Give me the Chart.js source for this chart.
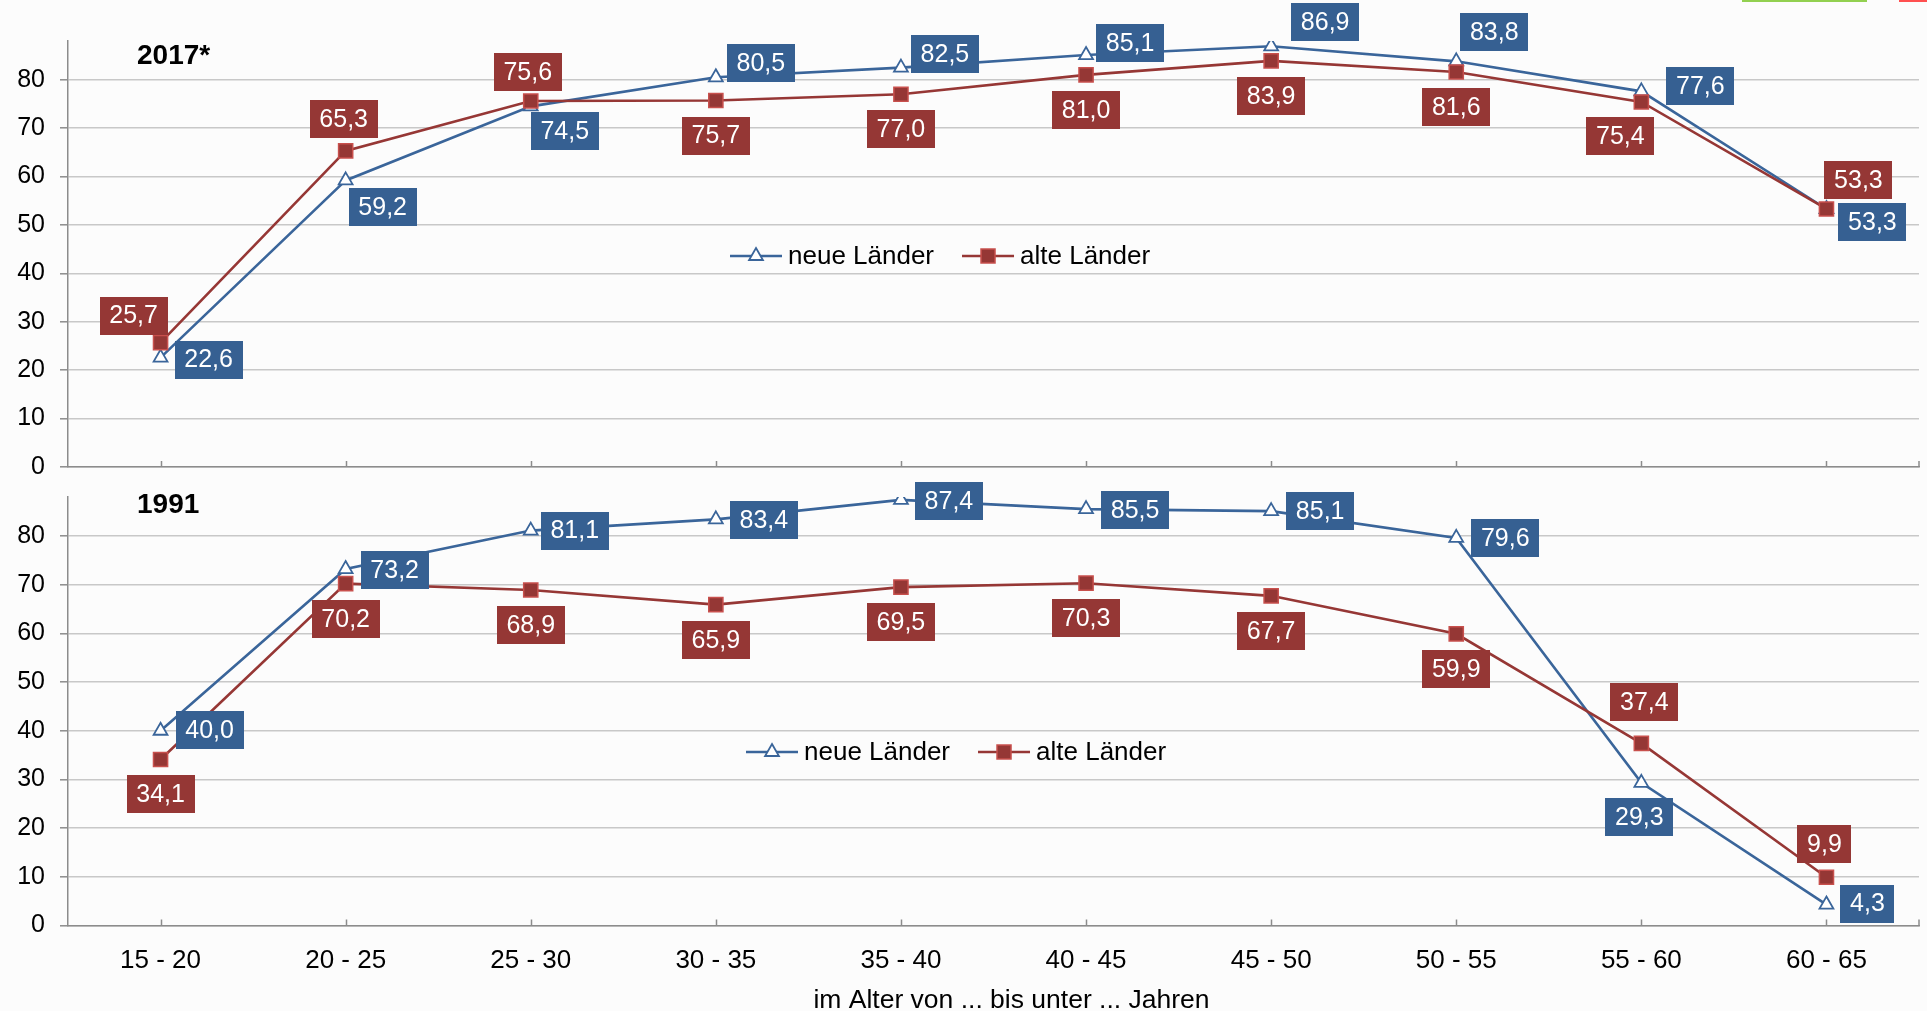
<!DOCTYPE html>
<html lang="de">
<head>
<meta charset="utf-8">
<title>Erwerbstätigenquoten nach Alter</title>
<script src="https://cdn.jsdelivr.net/npm/chart.js@4/dist/chart.umd.min.js"></script>
<style>
  html, body { margin: 0; padding: 0; background: #fcfcfc; }
  #wrap { position: relative; width: 1927px; height: 1011px; overflow: hidden; background: #fcfcfc; }
  .panel { position: absolute; left: 0; }
  #p2017 { top: 0; }
  #p1991 { top: 476px; }
  .strip { position: absolute; top: 0; height: 2px; }
</style>
</head>
<body>
<div id="wrap">
  <canvas class="panel" id="p2017" width="1927" height="476"></canvas>
  <canvas class="panel" id="p1991" width="1927" height="535"></canvas>
  <div class="strip" style="left:1742px;width:125px;background:#92d050"></div>
  <div class="strip" style="left:1899px;width:28px;background:#ff5050"></div>
</div>
<script>
// ---- data ----
const ageGroups = ['15 - 20', '20 - 25', '25 - 30', '30 - 35', '35 - 40',
                   '40 - 45', '45 - 50', '50 - 55', '55 - 60', '60 - 65'];
const seriesNames = ['neue Länder', 'alte Länder'];
const neue2017 = [22.6, 59.2, 74.5, 80.5, 82.5, 85.1, 86.9, 83.8, 77.6, 53.3];
const alte2017 = [25.7, 65.3, 75.6, 75.7, 77.0, 81.0, 83.9, 81.6, 75.4, 53.3];
const neue1991 = [40.0, 73.2, 81.1, 83.4, 87.4, 85.5, 85.1, 79.6, 29.3, 4.3];
const alte1991 = [34.1, 70.2, 68.9, 65.9, 69.5, 70.3, 67.7, 59.9, 37.4, 9.9];
const yTickValues = [0, 10, 20, 30, 40, 50, 60, 70, 80];
const panelTitles = ['2017*', '1991'];
const xAxisTitle = 'im Alter von ... bis unter ... Jahren';

// ---- styles ----
const FONT = '"Liberation Sans", Arial, Helvetica, sans-serif';
const BLUE_LINE = '#3a659a';
const RED_LINE = '#963735';
const BLUE_BOX = '#366092';
const RED_BOX = '#953735';
const RED_EDGE = '#c8504d';
const GRID = '#c8c8c8';
const AXIS = '#8c8c8c';

// label box placement around each point (pixels)
const offsNeue2017 = [[48,2],[37,27],[34,25],[45,-14],[44,-14],[44,-12],[54,-24],[38,-29],[59,-5],[46,13]];
const offsAlte2017 = [[-27,-27],[-2,-32],[-3,-29],[0,35],[0,35],[0,35],[0,35],[0,35],[-21,34],[32,-29]];
const offsNeue1991 = [[49,-1],[49,1],[44,0],[48,1],[48,1],[49,1],[49,0],[49,0],[-2,34],[41,-1]];
const offsAlte1991 = [[0,35],[0,35],[0,35],[0,35],[0,35],[0,35],[0,35],[0,35],[3,-41],[-2,-33]];

const fmt = v => v.toFixed(1).replace('.', ',');

function drawMarker(ctx, style, x, y) {
  ctx.save();
  if (style === 'triangle') {
    const r = 8;
    ctx.beginPath();
    ctx.moveTo(x, y - r);
    ctx.lineTo(x + r * 0.866, y + r * 0.5);
    ctx.lineTo(x - r * 0.866, y + r * 0.5);
    ctx.closePath();
    ctx.fillStyle = '#ffffff';
    ctx.fill();
    ctx.lineWidth = 1.8;
    ctx.strokeStyle = BLUE_LINE;
    ctx.stroke();
  } else {
    const s = 7;
    ctx.fillStyle = RED_BOX;
    ctx.fillRect(x - s, y - s, 2 * s, 2 * s);
    ctx.lineWidth = 1.5;
    ctx.strokeStyle = RED_EDGE;
    ctx.strokeRect(x - s, y - s, 2 * s, 2 * s);
  }
  ctx.restore();
}

// value boxes next to the points
const valueBoxes = {
  id: 'valueBoxes',
  afterDatasetsDraw(chart, args, opts) {
    const ctx = chart.ctx;
    ctx.save();
    ctx.font = '25px ' + FONT;
    ctx.textAlign = 'center';
    ctx.textBaseline = 'middle';
    const h = 38, pad = 9.7;
    chart.data.datasets.forEach((ds, di) => {
      const meta = chart.getDatasetMeta(di);
      meta.data.forEach((pt, i) => {
        const txt = fmt(ds.data[i]);
        const w = ctx.measureText(txt).width + 2 * pad;
        const cx = pt.x + opts.offsets[di][i][0];
        const cy = pt.y + opts.offsets[di][i][1];
        ctx.fillStyle = opts.colors[di];
        ctx.fillRect(Math.round(cx - w / 2), Math.round(cy - h / 2), Math.round(w), h);
        ctx.fillStyle = '#ffffff';
        ctx.fillText(txt, cx, cy + 1);
      });
    });
    ctx.restore();
  }
};

// legend inside the plot, panel title, tick marks, axis title
const decorations = {
  id: 'decorations',
  afterDraw(chart, args, opts) {
    const ctx = chart.ctx;
    const xs = chart.scales.x;
    const area = chart.chartArea;
    ctx.save();
    // upward tick marks on the category axis
    ctx.strokeStyle = AXIS;
    ctx.lineWidth = 1.5;
    ctx.beginPath();
    for (let i = 0; i < ageGroups.length; i++) {
      const px = Math.round(xs.getPixelForValue(i)) + 0.5;
      ctx.moveTo(px, area.bottom);
      ctx.lineTo(px, area.bottom - 6);
    }
    ctx.moveTo(area.right, area.bottom);
    ctx.lineTo(area.right, area.bottom - 6);
    ctx.stroke();

    // panel title
    ctx.fillStyle = '#000';
    ctx.font = 'bold 28px ' + FONT;
    ctx.textAlign = 'left';
    ctx.textBaseline = 'middle';
    ctx.fillText(opts.title, opts.titleX, opts.titleY);

    // legend
    ctx.font = '26px ' + FONT;
    let lx = opts.legendX;
    const ly = opts.legendY;
    chart.data.datasets.forEach(ds => {
      ctx.strokeStyle = ds.borderColor;
      ctx.lineWidth = 2.5;
      ctx.beginPath();
      ctx.moveTo(lx, ly);
      ctx.lineTo(lx + 52, ly);
      ctx.stroke();
      drawMarker(ctx, ds.pointStyle, lx + 26, ly);
      ctx.fillStyle = '#000';
      ctx.textAlign = 'left';
      ctx.fillText(ds.label, lx + 58, ly + 1);
      lx += 58 + ctx.measureText(ds.label).width + 28;
    });

    // axis title
    if (opts.axisTitle) {
      ctx.font = '26.5px ' + FONT;
      ctx.textAlign = 'center';
      ctx.textBaseline = 'alphabetic';
      ctx.fillText(opts.axisTitle, (area.left + area.right) / 2 + 18, opts.axisTitleY);
    }
    ctx.restore();
  }
};

function makePanel(canvasId, neue, alte, offsets, layout) {
  return new Chart(document.getElementById(canvasId), {
    type: 'line',
    data: {
      labels: ageGroups,
      datasets: [
        {
          label: seriesNames[0],
          data: neue,
          borderColor: BLUE_LINE,
          borderWidth: 2.6,
          pointStyle: 'triangle',
          pointRadius: 8,
          pointBackgroundColor: '#ffffff',
          pointBorderColor: BLUE_LINE,
          pointBorderWidth: 1.8,
          tension: 0,
          order: 2
        },
        {
          label: seriesNames[1],
          data: alte,
          borderColor: RED_LINE,
          borderWidth: 2.6,
          pointStyle: 'rect',
          pointRadius: 10,
          pointBackgroundColor: RED_BOX,
          pointBorderColor: RED_EDGE,
          pointBorderWidth: 1.5,
          tension: 0,
          order: 1
        }
      ]
    },
    options: {
      responsive: false,
      animation: false,
      events: [],
      layout: { autoPadding: false, padding: { top: layout.top, right: 8, left: 0, bottom: 0 } },
      plugins: {
        legend: { display: false },
        title: { display: false },
        tooltip: { enabled: false },
        valueBoxes: { offsets: offsets, colors: [BLUE_BOX, RED_BOX] },
        decorations: {
          title: layout.title, titleX: 137, titleY: layout.titleY,
          legendX: layout.legendX, legendY: layout.legendY,
          axisTitle: layout.axisTitle, axisTitleY: layout.axisTitleY
        }
      },
      scales: {
        x: {
          type: 'category',
          offset: true,
          grid: { display: true, drawOnChartArea: false, drawTicks: false },
          border: { display: true, color: AXIS, width: 1.5 },
          ticks: {
            display: layout.showLabels,
            color: '#000',
            font: { family: FONT, size: 26 },
            padding: 20,
            maxRotation: 0,
            autoSkip: false
          },
          afterFit(s) { s.height = layout.xHeight; s.paddingLeft = 0; s.paddingRight = 0; }
        },
        y: {
          min: 0,
          max: 88,
          afterBuildTicks(s) { s.ticks = yTickValues.map(v => ({ value: v })); },
          grid: { color: GRID, lineWidth: 1.6, drawTicks: true, tickLength: 8, tickColor: AXIS, tickWidth: 1.5 },
          border: { display: true, color: AXIS, width: 1.5 },
          ticks: {
            color: '#000',
            font: { family: FONT, size: 25 },
            padding: 15
          },
          afterFit(s) { s.width = 68; s.paddingTop = 0; s.paddingBottom = 0; }
        }
      }
    },
    plugins: [valueBoxes, decorations]
  });
}

makePanel('p2017', neue2017, alte2017, [offsNeue2017, offsAlte2017], {
  top: 41, xHeight: 9, showLabels: false,
  title: panelTitles[0], titleY: 56,
  legendX: 730, legendY: 256
});

makePanel('p1991', neue1991, alte1991, [offsNeue1991, offsAlte1991], {
  top: 21, xHeight: 85.5, showLabels: true,
  title: panelTitles[1], titleY: 29,
  legendX: 746, legendY: 276,
  axisTitle: xAxisTitle, axisTitleY: 532
});
</script>
</body>
</html>
